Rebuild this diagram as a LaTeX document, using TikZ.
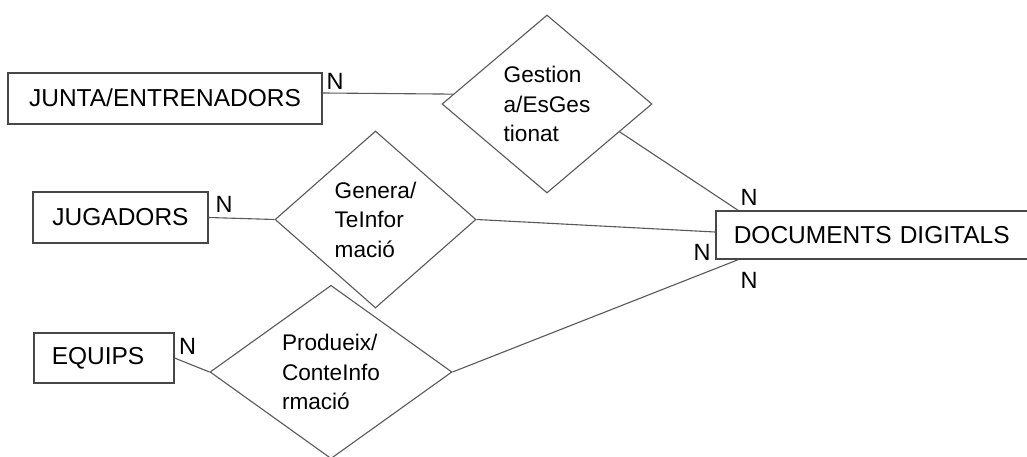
\documentclass[tikz,border=0pt]{standalone}
\usepackage{fontspec}
\setmainfont{Liberation Sans}
\usetikzlibrary{shapes.geometric}

\begin{document}
\begin{tikzpicture}[x=1pt,y=-1pt,
  entity/.style={draw=black!72, line width=1.5pt, rectangle, inner sep=0pt,
    minimum height=51pt, font=\fontsize{24.5}{29.5}\selectfont},
  relation/.style={draw=black!65, line width=1.1pt, diamond, inner sep=0pt,
    align=left, text depth=0pt, font=\fontsize{22.6}{29.5}\selectfont},
  link/.style={draw=black!65, line width=1.1pt},
  card/.style={inner sep=0pt, font=\fontsize{23.5}{28}\selectfont}]
\useasboundingbox (0,0) rectangle (1027,457);
\fill[white] (0,0) rectangle (1027,457);
\clip (0,0) rectangle (1027,457);

% entities
\node[entity, minimum width=314pt, text depth=2pt] (junta) at (165,98.5) {JUNTA/ENTRENADORS};
\node[entity, minimum width=175pt] (jug) at (120.5,217.5) {JUGADORS};
\node[entity, anchor=west, inner xsep=18pt, text width=104pt, align=left,
  minimum height=50pt] (equ) at (33,358) {EQUIPS};
\node[entity, anchor=west, inner xsep=18pt, text width=289pt, align=left,
  minimum height=48pt] (docs) at (715,235) {DOCUMENTS DIGITALS};

% relationships
\node[relation, minimum width=210pt, minimum height=178pt] (d1) at (547,104)
  {Gestion\\a/EsGes\\tionat};
\node[relation, minimum width=201pt, minimum height=177pt] (d2) at (375.5,219.5)
  {Genera/\\TeInfor\\mació};
\node[relation, minimum width=242pt, minimum height=170pt] (d3) at (331,372)
  {Produeix/\\ConteInfo\\rmació};

% connectors
\draw[link] (junta.2) -- (d1.174);
\draw[link] (jug.east) -- (d2.west);
\draw[link] (equ.east) -- (d3.west);
\draw[link] (d1.339) -- ([xshift=23pt]docs.north west);
\draw[link] (d2.east) -- ([yshift=3pt]docs.west);
\draw[link] (d3.east) -- ([xshift=23pt]docs.south west);

% cardinalities
\node[card] (n1) at (335,81.5) {N};
\node[card] (n2) at (224,204.5) {N};
\node[card] (n3) at (187.5,346.5) {N};
\node[card] (n4) at (749,197) {N};
\node[card] (n5) at (702,252) {N};
\node[card] (n6) at (749,280) {N};
\end{tikzpicture}
\end{document}
